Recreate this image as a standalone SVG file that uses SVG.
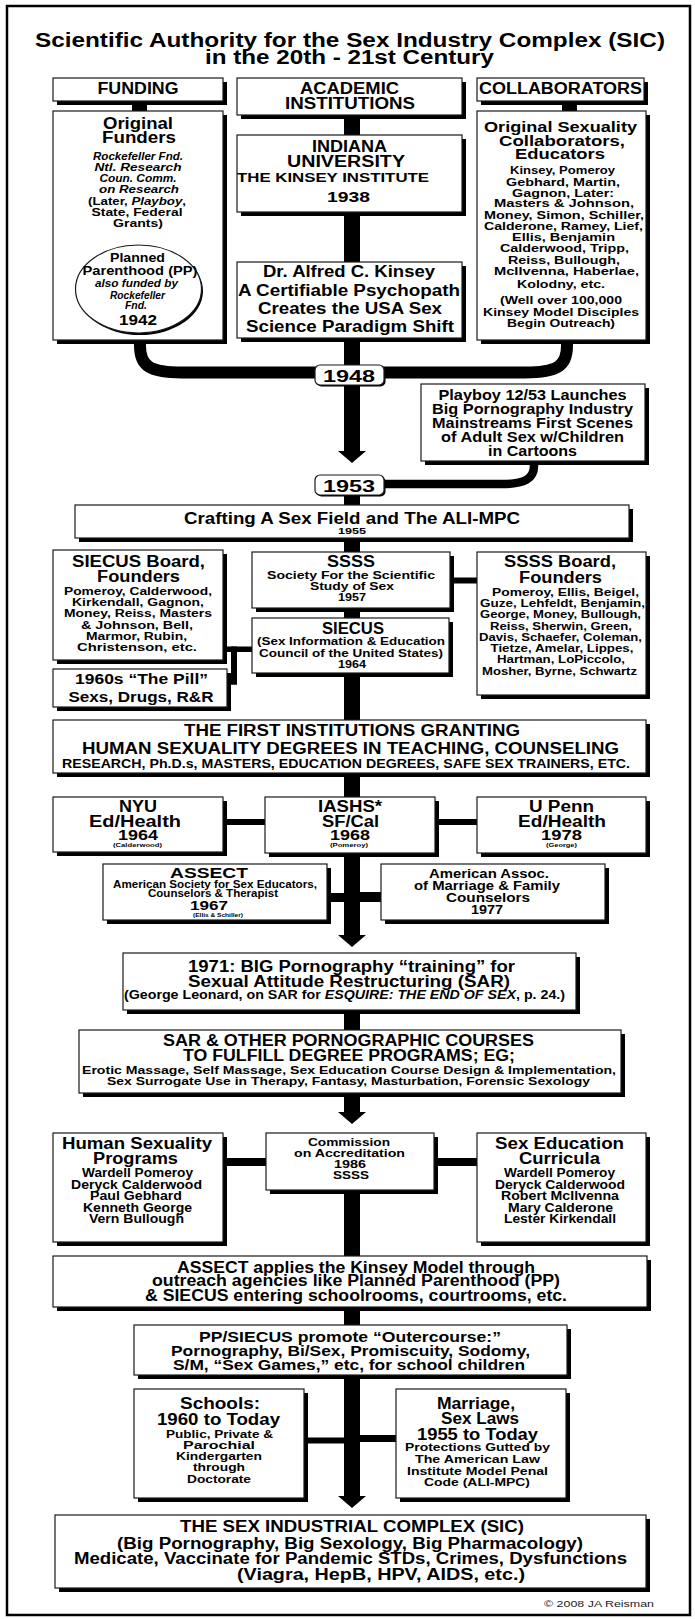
<svg xmlns="http://www.w3.org/2000/svg" width="695" height="1619" viewBox="0 0 695 1619">
<style>
text{font-family:"Liberation Sans",Arial,Helvetica,sans-serif;font-weight:bold;text-anchor:middle;fill:#000}
.b{fill:#fff;stroke:#1a1a1a;stroke-width:1.2}
.sh{fill:#000}
.f19{font-size:19.5px}
.f16{font-size:16px}
.f15{font-size:15px}
.f14{font-size:14px}
.f13{font-size:13px}
.f12{font-size:12px}
.f11{font-size:11.5px}
.f10{font-size:10.5px}
.f9{font-size:9px}
.f5{font-size:5px}
.i{font-style:italic}
.c{font-weight:normal;fill:#222}
.wire{fill:none;stroke:#000}
</style>
<defs>
<polygon id="arrow" points="-14,0 14,0 0,12"/>
</defs>
<rect width="695" height="1619" fill="#fff"/>
<rect x="7" y="6" width="683" height="1609" fill="none" stroke="#000" stroke-width="2.5"/>

<g id="title">
<text class="f19" x="350" y="47" textLength="630" lengthAdjust="spacingAndGlyphs">Scientific Authority for the Sex Industry Complex (SIC)</text>
<text class="f19" x="349.5" y="64" textLength="289" lengthAdjust="spacingAndGlyphs">in the 20th - 21st Century</text>
</g>

<g id="connectors" fill="#000">
<rect x="132" y="100" width="15" height="12"/>
<rect x="562" y="100" width="15" height="12"/>
<rect x="344" y="114" width="16" height="252"/>
<rect x="344" y="384" width="16" height="68"/>
<use href="#arrow" x="352" y="451"/>
<rect x="344" y="494" width="16" height="304"/>
<rect x="344" y="852" width="16" height="84"/>
<use href="#arrow" x="352" y="935"/>
<rect x="344" y="1009" width="16" height="105"/>
<use href="#arrow" x="352" y="1112"/>
<rect x="344" y="1189" width="16" height="309"/>
<use href="#arrow" x="352" y="1496"/>
<path class="wire" stroke-width="12" d="M140,338 V346 C140,366 150,372.5 182,372.5 H320"/>
<path class="wire" stroke-width="12" d="M567,338 V346 C567,366 557,372.5 525,372.5 H380"/>
<path class="wire" stroke-width="8.5" d="M534,460 V466 C534,479 524,484 503,484 H380"/>
<rect x="222" y="646.5" width="32" height="5.5"/>
<rect x="231" y="646.5" width="6" height="38"/>
<rect x="226" y="678.5" width="11" height="6"/>
<rect x="449" y="577.5" width="29" height="6"/>
<rect x="222" y="819" width="44" height="6"/>
<rect x="434" y="819" width="44" height="6"/>
<rect x="326" y="893" width="19" height="9"/>
<rect x="359" y="892" width="23" height="10"/>
<rect x="222" y="1158" width="45" height="8"/>
<rect x="433" y="1158" width="45" height="8"/>
<rect x="303" y="1437.5" width="42" height="6"/>
<rect x="359" y="1435" width="38" height="7"/>
</g>

<g id="funding">
<rect class="sh" x="57" y="82" width="170" height="23"/>
<rect class="b" x="53" y="78" width="170" height="23"/>
<text class="f16" x="138" y="94" textLength="81" lengthAdjust="spacingAndGlyphs">FUNDING</text>
</g>

<g id="academic">
<rect class="sh" x="241" y="82" width="225" height="37"/>
<rect class="b" x="237" y="78" width="225" height="37"/>
<text class="f16" x="349.5" y="94" textLength="99" lengthAdjust="spacingAndGlyphs">ACADEMIC</text>
<text class="f16" x="350" y="109" textLength="130" lengthAdjust="spacingAndGlyphs">INSTITUTIONS</text>
</g>

<g id="collaborators">
<rect class="sh" x="481" y="82" width="167" height="23"/>
<rect class="b" x="477" y="78" width="167" height="23"/>
<text class="f16" x="560.5" y="94" textLength="163" lengthAdjust="spacingAndGlyphs">COLLABORATORS</text>
</g>

<g id="original-funders">
<rect class="sh" x="57" y="115" width="170" height="229"/>
<rect class="b" x="53" y="111" width="170" height="229"/>
<text class="f16" x="138" y="129" textLength="70" lengthAdjust="spacingAndGlyphs">Original</text>
<text class="f16" x="139" y="143" textLength="74" lengthAdjust="spacingAndGlyphs">Funders</text>
<text class="f11 i" x="138" y="160" textLength="90" lengthAdjust="spacingAndGlyphs">Rockefeller Fnd.</text>
<text class="f11 i" x="138" y="171" textLength="87" lengthAdjust="spacingAndGlyphs">Ntl. Research</text>
<text class="f11 i" x="138" y="182" textLength="77" lengthAdjust="spacingAndGlyphs">Coun. Comm.</text>
<text class="f11 i" x="139" y="193" textLength="80" lengthAdjust="spacingAndGlyphs">on Research</text>
<text class="f11" x="137" y="204.5" textLength="98" lengthAdjust="spacingAndGlyphs">(Later, <tspan class="i">Playboy</tspan>,</text>
<text class="f11" x="137" y="215.5" textLength="91" lengthAdjust="spacingAndGlyphs">State, Federal</text>
<text class="f11" x="138" y="226.5" textLength="50" lengthAdjust="spacingAndGlyphs">Grants)</text>
</g>

<g id="planned-parenthood">
<ellipse cx="140" cy="291" rx="63" ry="44" fill="#000"/>
<ellipse cx="138.5" cy="289" rx="63" ry="44" fill="#fff" stroke="#1a1a1a" stroke-width="1.2"/>
<text class="f13" x="137.5" y="262" textLength="55" lengthAdjust="spacingAndGlyphs">Planned</text>
<text class="f13" x="140" y="275" textLength="115" lengthAdjust="spacingAndGlyphs">Parenthood (PP)</text>
<text class="f10 i" x="136.5" y="287" textLength="83" lengthAdjust="spacingAndGlyphs">also funded by</text>
<text class="f10 i" x="137.5" y="299" textLength="55" lengthAdjust="spacingAndGlyphs">Rockefeller</text>
<text class="f10 i" x="136" y="309" textLength="22" lengthAdjust="spacingAndGlyphs">Fnd.</text>
<text class="f14" x="138" y="325" textLength="38" lengthAdjust="spacingAndGlyphs">1942</text>
</g>

<g id="indiana">
<rect class="sh" x="241" y="139" width="225" height="77"/>
<rect class="b" x="237" y="135" width="225" height="77"/>
<text class="f16" x="349.5" y="152" textLength="75" lengthAdjust="spacingAndGlyphs">INDIANA</text>
<text class="f16" x="346" y="167" textLength="118" lengthAdjust="spacingAndGlyphs">UNIVERSITY</text>
<text class="f12" x="333" y="182" textLength="192" lengthAdjust="spacingAndGlyphs">THE KINSEY INSTITUTE</text>
<text class="f14" x="348.5" y="202" textLength="43" lengthAdjust="spacingAndGlyphs">1938</text>
</g>

<g id="kinsey">
<rect class="sh" x="241" y="266" width="225" height="76"/>
<rect class="b" x="237" y="262" width="225" height="76"/>
<text class="f16" x="349" y="277" textLength="172" lengthAdjust="spacingAndGlyphs">Dr. Alfred C. Kinsey</text>
<text class="f16" x="349" y="295.5" textLength="222" lengthAdjust="spacingAndGlyphs">A Certifiable Psychopath</text>
<text class="f16" x="350" y="314" textLength="184" lengthAdjust="spacingAndGlyphs">Creates the USA Sex</text>
<text class="f16" x="350" y="332" textLength="208" lengthAdjust="spacingAndGlyphs">Science Paradigm Shift</text>
</g>

<g id="original-collaborators">
<rect class="sh" x="481" y="115" width="169" height="229"/>
<rect class="b" x="477" y="111" width="169" height="229"/>
<text class="f15" x="560.5" y="132" textLength="153" lengthAdjust="spacingAndGlyphs">Original Sexuality</text>
<text class="f15" x="562" y="146" textLength="126" lengthAdjust="spacingAndGlyphs">Collaborators,</text>
<text class="f15" x="560" y="158.5" textLength="90" lengthAdjust="spacingAndGlyphs">Educators</text>
<text class="f11" x="562.5" y="174" textLength="105" lengthAdjust="spacingAndGlyphs">Kinsey, Pomeroy</text>
<text class="f11" x="563" y="185.7" textLength="114" lengthAdjust="spacingAndGlyphs">Gebhard, Martin,</text>
<text class="f11" x="563" y="196.7" textLength="102" lengthAdjust="spacingAndGlyphs">Gagnon, Later:</text>
<text class="f11" x="564" y="207.3" textLength="140" lengthAdjust="spacingAndGlyphs">Masters &amp; Johnson,</text>
<text class="f11" x="564" y="219" textLength="160" lengthAdjust="spacingAndGlyphs">Money, Simon, Schiller,</text>
<text class="f11" x="563.5" y="229.7" textLength="159" lengthAdjust="spacingAndGlyphs">Calderone, Ramey, Lief,</text>
<text class="f11" x="563.5" y="241" textLength="103" lengthAdjust="spacingAndGlyphs">Ellis, Benjamin</text>
<text class="f11" x="564.5" y="252" textLength="129" lengthAdjust="spacingAndGlyphs">Calderwood, Tripp,</text>
<text class="f11" x="564" y="264" textLength="112" lengthAdjust="spacingAndGlyphs">Reiss, Bullough,</text>
<text class="f11" x="566.5" y="274.7" textLength="145" lengthAdjust="spacingAndGlyphs">McIlvenna, Haberlae,</text>
<text class="f11" x="561" y="288" textLength="88" lengthAdjust="spacingAndGlyphs">Kolodny,  etc.</text>
<text class="f11" x="561" y="304" textLength="122" lengthAdjust="spacingAndGlyphs">(Well over 100,000</text>
<text class="f11" x="561" y="315.5" textLength="156" lengthAdjust="spacingAndGlyphs">Kinsey Model Disciples</text>
<text class="f11" x="561" y="327" textLength="108" lengthAdjust="spacingAndGlyphs">Begin Outreach)</text>
</g>

<g id="y1948">
<rect class="sh" x="316.5" y="366.5" width="69" height="20" rx="5"/>
<rect class="b" x="315" y="365" width="69" height="20" rx="5"/>
<text class="f16" x="349" y="381.5" textLength="52" lengthAdjust="spacingAndGlyphs">1948</text>
</g>

<g id="playboy">
<rect class="sh" x="425" y="388" width="224" height="77"/>
<rect class="b" x="421" y="384" width="224" height="77"/>
<text class="f14" x="532.5" y="399.5" textLength="188" lengthAdjust="spacingAndGlyphs">Playboy 12/53 Launches</text>
<text class="f14" x="532.5" y="414" textLength="201" lengthAdjust="spacingAndGlyphs">Big Pornography Industry</text>
<text class="f14" x="532.5" y="428" textLength="201" lengthAdjust="spacingAndGlyphs">Mainstreams First Scenes</text>
<text class="f14" x="532.5" y="442" textLength="183" lengthAdjust="spacingAndGlyphs">of Adult Sex w/Children</text>
<text class="f14" x="532.5" y="456" textLength="89" lengthAdjust="spacingAndGlyphs">in Cartoons</text>
</g>

<g id="y1953">
<rect class="sh" x="316.5" y="476.5" width="69" height="20" rx="5"/>
<rect class="b" x="315" y="475" width="69" height="20" rx="5"/>
<text class="f16" x="349" y="491.5" textLength="52" lengthAdjust="spacingAndGlyphs">1953</text>
</g>

<g id="crafting">
<rect class="sh" x="79" y="509" width="554" height="33"/>
<rect class="b" x="75" y="505" width="554" height="33"/>
<text class="f16" x="352" y="523.5" textLength="336" lengthAdjust="spacingAndGlyphs">Crafting A Sex Field and The ALI-MPC</text>
<text class="f9" x="352" y="533.5" textLength="28" lengthAdjust="spacingAndGlyphs">1955</text>
</g>

<g id="siecus-board">
<rect class="sh" x="57" y="554" width="170" height="110"/>
<rect class="b" x="53" y="550" width="170" height="110"/>
<text class="f16" x="138.5" y="567" textLength="133" lengthAdjust="spacingAndGlyphs">SIECUS Board,</text>
<text class="f16" x="138.5" y="582" textLength="83" lengthAdjust="spacingAndGlyphs">Founders</text>
<text class="f11" x="138" y="594.5" textLength="148" lengthAdjust="spacingAndGlyphs">Pomeroy, Calderwood,</text>
<text class="f11" x="138" y="606" textLength="132" lengthAdjust="spacingAndGlyphs">Kirkendall, Gagnon,</text>
<text class="f11" x="138" y="617" textLength="148" lengthAdjust="spacingAndGlyphs">Money, Reiss, Masters</text>
<text class="f11" x="137" y="628.5" textLength="112" lengthAdjust="spacingAndGlyphs">&amp; Johnson, Bell,</text>
<text class="f11" x="136.5" y="640" textLength="101" lengthAdjust="spacingAndGlyphs">Marmor, Rubin,</text>
<text class="f11" x="137" y="651" textLength="120" lengthAdjust="spacingAndGlyphs">Christenson, etc.</text>
</g>

<g id="pill">
<rect class="sh" x="57" y="673" width="174" height="38"/>
<rect class="b" x="53" y="669" width="174" height="38"/>
<text class="f14" x="141.5" y="684" textLength="133" lengthAdjust="spacingAndGlyphs">1960s “The Pill”</text>
<text class="f14" x="141" y="701.5" textLength="145" lengthAdjust="spacingAndGlyphs">Sexs, Drugs, R&amp;R</text>
</g>

<g id="ssss">
<rect class="sh" x="256" y="556" width="198" height="56"/>
<rect class="b" x="252" y="552" width="198" height="56"/>
<text class="f16" x="351" y="567" textLength="48" lengthAdjust="spacingAndGlyphs">SSSS</text>
<text class="f11" x="351" y="579" textLength="168" lengthAdjust="spacingAndGlyphs">Society For the Scientific</text>
<text class="f11" x="352" y="590" textLength="84" lengthAdjust="spacingAndGlyphs">Study of Sex</text>
<text class="f11" x="352" y="601" textLength="28" lengthAdjust="spacingAndGlyphs">1957</text>
</g>

<g id="siecus">
<rect class="sh" x="256" y="622" width="197" height="55"/>
<rect class="b" x="252" y="618" width="197" height="55"/>
<text class="f16" x="353" y="633.5" textLength="62" lengthAdjust="spacingAndGlyphs">SIECUS</text>
<text class="f11" x="351" y="645" textLength="188" lengthAdjust="spacingAndGlyphs">(Sex Information &amp; Education</text>
<text class="f11" x="351" y="656.5" textLength="184" lengthAdjust="spacingAndGlyphs">Council of the United States)</text>
<text class="f11" x="352" y="668" textLength="28" lengthAdjust="spacingAndGlyphs">1964</text>
</g>

<g id="ssss-board">
<rect class="sh" x="481" y="556" width="169" height="143"/>
<rect class="b" x="477" y="552" width="169" height="143"/>
<text class="f16" x="560" y="567" textLength="112" lengthAdjust="spacingAndGlyphs">SSSS Board,</text>
<text class="f16" x="560.5" y="582.5" textLength="83" lengthAdjust="spacingAndGlyphs">Founders</text>
<text class="f11" x="565.5" y="596" textLength="147" lengthAdjust="spacingAndGlyphs">Pomeroy, Ellis, Beigel,</text>
<text class="f11" x="562.5" y="607" textLength="165" lengthAdjust="spacingAndGlyphs">Guze, Lehfeldt, Benjamin,</text>
<text class="f11" x="560.5" y="618" textLength="161" lengthAdjust="spacingAndGlyphs">George, Money, Bullough,</text>
<text class="f11" x="561" y="630" textLength="142" lengthAdjust="spacingAndGlyphs">Reiss, Sherwin, Green,</text>
<text class="f11" x="560.5" y="641" textLength="163" lengthAdjust="spacingAndGlyphs">Davis, Schaefer, Coleman,</text>
<text class="f11" x="562" y="652" textLength="143" lengthAdjust="spacingAndGlyphs">Tietze, Amelar, Lippes,</text>
<text class="f11" x="561" y="663" textLength="128" lengthAdjust="spacingAndGlyphs">Hartman, LoPiccolo,</text>
<text class="f11" x="559.5" y="675" textLength="155" lengthAdjust="spacingAndGlyphs">Mosher, Byrne, Schwartz</text>
</g>

<g id="first-institutions">
<rect class="sh" x="57" y="724" width="593" height="53"/>
<rect class="b" x="53" y="720" width="593" height="53"/>
<text class="f16" x="352" y="735.7" textLength="336" lengthAdjust="spacingAndGlyphs">THE FIRST INSTITUTIONS GRANTING</text>
<text class="f16" x="350.5" y="754" textLength="537" lengthAdjust="spacingAndGlyphs">HUMAN SEXUALITY DEGREES IN TEACHING, COUNSELING</text>
<text class="f12" x="346" y="768" textLength="568" lengthAdjust="spacingAndGlyphs">RESEARCH, Ph.D.s, MASTERS, EDUCATION DEGREES, SAFE SEX TRAINERS, ETC.</text>
</g>

<g id="nyu">
<rect class="sh" x="57" y="801" width="170" height="55"/>
<rect class="b" x="53" y="797" width="170" height="55"/>
<text class="f16" x="138" y="811.7" textLength="38" lengthAdjust="spacingAndGlyphs">NYU</text>
<text class="f16" x="135" y="826.7" textLength="92" lengthAdjust="spacingAndGlyphs">Ed/Health</text>
<text class="f14" x="138" y="840" textLength="40" lengthAdjust="spacingAndGlyphs">1964</text>
<text class="f5" x="137.5" y="846.5" textLength="49" lengthAdjust="spacingAndGlyphs">(Calderwood)</text>
</g>

<g id="iashs">
<rect class="sh" x="269" y="801" width="170" height="56"/>
<rect class="b" x="265" y="797" width="170" height="56"/>
<text class="f16" x="350" y="811.7" textLength="64" lengthAdjust="spacingAndGlyphs">IASHS*</text>
<text class="f16" x="350.5" y="826.7" textLength="57" lengthAdjust="spacingAndGlyphs">SF/Cal</text>
<text class="f14" x="350" y="840" textLength="40" lengthAdjust="spacingAndGlyphs">1968</text>
<text class="f5" x="349" y="846.5" textLength="38" lengthAdjust="spacingAndGlyphs">(Pomeroy)</text>
</g>

<g id="upenn">
<rect class="sh" x="481" y="801" width="169" height="56"/>
<rect class="b" x="477" y="797" width="169" height="56"/>
<text class="f16" x="561.5" y="811.7" textLength="65" lengthAdjust="spacingAndGlyphs">U Penn</text>
<text class="f16" x="562" y="826.7" textLength="88" lengthAdjust="spacingAndGlyphs">Ed/Health</text>
<text class="f14" x="561.5" y="840" textLength="41" lengthAdjust="spacingAndGlyphs">1978</text>
<text class="f5" x="561.5" y="846.5" textLength="31" lengthAdjust="spacingAndGlyphs">(George)</text>
</g>

<g id="assect">
<rect class="sh" x="107" y="868" width="224" height="56"/>
<rect class="b" x="103" y="864" width="224" height="56"/>
<text class="f15" x="209" y="878" textLength="78" lengthAdjust="spacingAndGlyphs">ASSECT</text>
<text class="f10" x="215" y="888" textLength="204" lengthAdjust="spacingAndGlyphs">American Society for Sex Educators,</text>
<text class="f10" x="213" y="897" textLength="130" lengthAdjust="spacingAndGlyphs">Counselors &amp; Therapist</text>
<text class="f12" x="209" y="910" textLength="38" lengthAdjust="spacingAndGlyphs">1967</text>
<text class="f5" x="218" y="916.5" textLength="50" lengthAdjust="spacingAndGlyphs">(Ellis &amp; Schiller)</text>
</g>

<g id="aamfc">
<rect class="sh" x="385" y="868" width="224" height="56"/>
<rect class="b" x="381" y="864" width="224" height="56"/>
<text class="f12" x="489" y="878" textLength="120" lengthAdjust="spacingAndGlyphs">American Assoc.</text>
<text class="f12" x="487" y="889.5" textLength="146" lengthAdjust="spacingAndGlyphs">of Marriage &amp; Family</text>
<text class="f12" x="488" y="901.7" textLength="84" lengthAdjust="spacingAndGlyphs">Counselors</text>
<text class="f12" x="487" y="914" textLength="32" lengthAdjust="spacingAndGlyphs">1977</text>
</g>

<g id="sar-1971">
<rect class="sh" x="127" y="957" width="453" height="57"/>
<rect class="b" x="123" y="953" width="453" height="57"/>
<text class="f16" x="351.5" y="971.5" textLength="327" lengthAdjust="spacingAndGlyphs">1971: BIG Pornography “training” for</text>
<text class="f16" x="349" y="986.7" textLength="322" lengthAdjust="spacingAndGlyphs">Sexual Attitude Restructuring (SAR)</text>
<text class="f12" x="344.5" y="999" textLength="441" lengthAdjust="spacingAndGlyphs">(George Leonard, on SAR for <tspan class="i">ESQUIRE: THE END OF SEX</tspan>, p. 24.)</text>
</g>

<g id="sar-courses">
<rect class="sh" x="83" y="1034" width="542" height="63"/>
<rect class="b" x="79" y="1030" width="542" height="63"/>
<text class="f16" x="348.5" y="1046" textLength="371" lengthAdjust="spacingAndGlyphs">SAR &amp; OTHER PORNOGRAPHIC COURSES</text>
<text class="f16" x="349" y="1060.7" textLength="332" lengthAdjust="spacingAndGlyphs">TO FULFILL DEGREE PROGRAMS; EG;</text>
<text class="f11" x="349" y="1074" textLength="534" lengthAdjust="spacingAndGlyphs">Erotic Massage, Self Massage, Sex Education Course Design &amp; Implementation,</text>
<text class="f11" x="348.5" y="1084.5" textLength="483" lengthAdjust="spacingAndGlyphs">Sex Surrogate Use in Therapy, Fantasy, Masturbation, Forensic Sexology</text>
</g>

<g id="hs-programs">
<rect class="sh" x="57" y="1137" width="170" height="109"/>
<rect class="b" x="53" y="1133" width="170" height="109"/>
<text class="f16" x="137" y="1149" textLength="150" lengthAdjust="spacingAndGlyphs">Human Sexuality</text>
<text class="f16" x="135.5" y="1164" textLength="85" lengthAdjust="spacingAndGlyphs">Programs</text>
<text class="f12" x="137.5" y="1177" textLength="111" lengthAdjust="spacingAndGlyphs">Wardell Pomeroy</text>
<text class="f12" x="136.5" y="1189" textLength="131" lengthAdjust="spacingAndGlyphs">Deryck Calderwood</text>
<text class="f12" x="136" y="1200" textLength="92" lengthAdjust="spacingAndGlyphs">Paul Gebhard</text>
<text class="f12" x="137.5" y="1211.7" textLength="109" lengthAdjust="spacingAndGlyphs">Kenneth George</text>
<text class="f12" x="136.5" y="1223" textLength="95" lengthAdjust="spacingAndGlyphs">Vern Bullough</text>
</g>

<g id="commission">
<rect class="sh" x="270" y="1137" width="168" height="57"/>
<rect class="b" x="266" y="1133" width="168" height="57"/>
<text class="f11" x="349" y="1146" textLength="82" lengthAdjust="spacingAndGlyphs">Commission</text>
<text class="f11" x="349.5" y="1157" textLength="111" lengthAdjust="spacingAndGlyphs">on Accreditation</text>
<text class="f11" x="350" y="1167.5" textLength="32" lengthAdjust="spacingAndGlyphs">1986</text>
<text class="f11" x="351" y="1179" textLength="36" lengthAdjust="spacingAndGlyphs">SSSS</text>
</g>

<g id="sex-ed">
<rect class="sh" x="481" y="1137" width="169" height="109"/>
<rect class="b" x="477" y="1133" width="169" height="109"/>
<text class="f16" x="559.5" y="1149" textLength="129" lengthAdjust="spacingAndGlyphs">Sex Education</text>
<text class="f16" x="559.5" y="1164" textLength="81" lengthAdjust="spacingAndGlyphs">Curricula</text>
<text class="f12" x="559.5" y="1177" textLength="111" lengthAdjust="spacingAndGlyphs">Wardell Pomeroy</text>
<text class="f12" x="560" y="1189" textLength="130" lengthAdjust="spacingAndGlyphs">Deryck Calderwood</text>
<text class="f12" x="560" y="1200" textLength="118" lengthAdjust="spacingAndGlyphs">Robert McIlvenna</text>
<text class="f12" x="560.5" y="1211.7" textLength="105" lengthAdjust="spacingAndGlyphs">Mary Calderone</text>
<text class="f12" x="560" y="1223" textLength="112" lengthAdjust="spacingAndGlyphs">Lester Kirkendall</text>
</g>

<g id="assect-applies">
<rect class="sh" x="57" y="1260" width="594" height="51"/>
<rect class="b" x="53" y="1256" width="594" height="51"/>
<text class="f16" x="356" y="1272.7" textLength="358" lengthAdjust="spacingAndGlyphs">ASSECT applies the Kinsey Model through</text>
<text class="f16" x="356" y="1286" textLength="408" lengthAdjust="spacingAndGlyphs">outreach agencies like Planned Parenthood (PP)</text>
<text class="f16" x="356" y="1300.7" textLength="422" lengthAdjust="spacingAndGlyphs">&amp; SIECUS entering schoolrooms, courtrooms, etc.</text>
</g>

<g id="outercourse">
<rect class="sh" x="138" y="1329" width="433" height="50"/>
<rect class="b" x="134" y="1325" width="433" height="50"/>
<text class="f15" x="350" y="1341.5" textLength="302" lengthAdjust="spacingAndGlyphs">PP/SIECUS promote “Outercourse:”</text>
<text class="f15" x="350.5" y="1355.5" textLength="359" lengthAdjust="spacingAndGlyphs">Pornography, Bi/Sex, Promiscuity, Sodomy,</text>
<text class="f15" x="349" y="1369.5" textLength="352" lengthAdjust="spacingAndGlyphs">S/M, “Sex Games,” etc, for school children</text>
</g>

<g id="schools">
<rect class="sh" x="138" y="1393" width="170" height="109"/>
<rect class="b" x="134" y="1389" width="170" height="109"/>
<text class="f16" x="220" y="1408.5" textLength="80" lengthAdjust="spacingAndGlyphs">Schools:</text>
<text class="f16" x="218.5" y="1425" textLength="123" lengthAdjust="spacingAndGlyphs">1960 to Today</text>
<text class="f11" x="219.5" y="1437.7" textLength="107" lengthAdjust="spacingAndGlyphs">Public, Private &amp;</text>
<text class="f11" x="219" y="1448.5" textLength="72" lengthAdjust="spacingAndGlyphs">Parochial</text>
<text class="f11" x="219" y="1460" textLength="86" lengthAdjust="spacingAndGlyphs">Kindergarten</text>
<text class="f11" x="219" y="1471" textLength="52" lengthAdjust="spacingAndGlyphs">through</text>
<text class="f11" x="219" y="1482.5" textLength="64" lengthAdjust="spacingAndGlyphs">Doctorate</text>
</g>

<g id="marriage">
<rect class="sh" x="400" y="1393" width="170" height="109"/>
<rect class="b" x="396" y="1389" width="170" height="109"/>
<text class="f16" x="476" y="1409" textLength="78" lengthAdjust="spacingAndGlyphs">Marriage,</text>
<text class="f16" x="480" y="1424" textLength="78" lengthAdjust="spacingAndGlyphs">Sex Laws</text>
<text class="f16" x="477.5" y="1440" textLength="121" lengthAdjust="spacingAndGlyphs">1955 to Today</text>
<text class="f11" x="477.5" y="1451" textLength="145" lengthAdjust="spacingAndGlyphs">Protections Gutted by</text>
<text class="f11" x="477.5" y="1463" textLength="125" lengthAdjust="spacingAndGlyphs">The American Law</text>
<text class="f11" x="477.5" y="1475" textLength="141" lengthAdjust="spacingAndGlyphs">Institute Model Penal</text>
<text class="f11" x="477" y="1486" textLength="106" lengthAdjust="spacingAndGlyphs">Code (ALI-MPC)</text>
</g>

<g id="sic">
<rect class="sh" x="59" y="1519" width="591" height="73"/>
<rect class="b" x="55" y="1515" width="591" height="73"/>
<text class="f16" x="352" y="1532.3" textLength="344" lengthAdjust="spacingAndGlyphs">THE SEX INDUSTRIAL COMPLEX (SIC)</text>
<text class="f16" x="350" y="1549" textLength="466" lengthAdjust="spacingAndGlyphs">(Big Pornography, Big Sexology, Big Pharmacology)</text>
<text class="f16" x="350.5" y="1564" textLength="553" lengthAdjust="spacingAndGlyphs">Medicate, Vaccinate for Pandemic STDs, Crimes, Dysfunctions</text>
<text class="f16" x="381" y="1580" textLength="288" lengthAdjust="spacingAndGlyphs">(Viagra, HepB, HPV, AIDS, etc.)</text>
</g>

<text class="f9 c" x="599" y="1607" textLength="110" lengthAdjust="spacingAndGlyphs">© 2008 JA Reisman</text>
</svg>
